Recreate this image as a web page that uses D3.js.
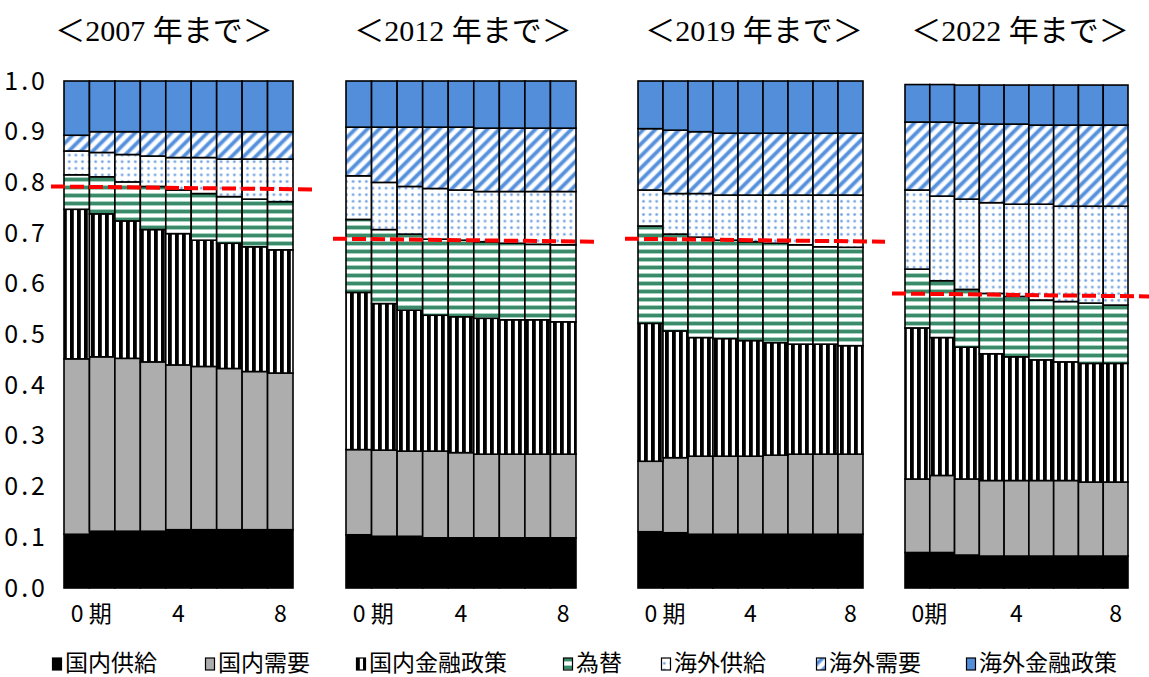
<!DOCTYPE html>
<html>
<head>
<meta charset="utf-8">
<title>要因分解（期間別）</title>
<script src="https://d3js.org/d3.v7.min.js"></script>
<style>
  body { margin: 0; background: #fff; }
  svg text { font-family: "Noto Sans CJK JP", "Noto Sans", sans-serif; fill: #000; }
</style>
</head>
<body>
<svg width="1149" height="677"></svg>
<script>

// ---- data ----
const periods = [0, 1, 2, 3, 4, 5, 6, 7, 8];
const factors = ['国内供給', '国内需要', '国内金融政策', '為替', '海外供給', '海外需要', '海外金融政策'];
const panelTitles = ['＜2007 年まで＞', '＜2012 年まで＞', '＜2019 年まで＞', '＜2022 年まで＞'];
const yTicks = [0, 0.1, 0.2, 0.3, 0.4, 0.5, 0.6, 0.7, 0.8, 0.9, 1.0];
const firstTickLabels = ['0 期', '0 期', '0 期', '0期'];

// shares per factor (rows in the order of `factors`), one value per period
const share2007 = [
  [.106, .112, .112, .112, .115, .115, .115, .115, .115],
  [.346, .344, .341, .334, .325, .322, .318, .312, .309],
  [.295, .282, .271, .261, .259, .249, .247, .246, .243],
  [.068, .073, .077, .085, .086, .092, .092, .094, .095],
  [.047, .048, .054, .060, .064, .071, .074, .079, .084],
  [.031, .041, .045, .048, .051, .051, .054, .054, .054],
  [.107, .100, .100, .100, .100, .100, .100, .100, .100]
];
const share2012 = [
  [.105, .102, .102, .099, .099, .099, .099, .099, .099],
  [.168, .170, .168, .171, .168, .165, .165, .165, .165],
  [.310, .289, .278, .268, .268, .268, .265, .265, .261],
  [.144, .146, .150, .150, .151, .151, .151, .149, .152],
  [.086, .093, .094, .100, .099, .099, .102, .104, .105],
  [.096, .109, .117, .121, .124, .125, .125, .125, .125],
  [.091, .091, .091, .091, .091, .093, .093, .093, .093]
];
const share2019 = [
  [.111, .109, .106, .106, .106, .106, .106, .106, .106],
  [.139, .148, .154, .154, .154, .156, .158, .158, .158],
  [.272, .250, .234, .232, .228, .222, .217, .217, .214],
  [.192, .191, .198, .194, .195, .196, .196, .192, .194],
  [.071, .080, .086, .089, .092, .095, .098, .102, .103],
  [.121, .125, .122, .122, .122, .122, .122, .122, .122],
  [.094, .097, .100, .103, .103, .103, .103, .103, .103]
];
const share2022 = [
  [.070, .070, .065, .063, .063, .063, .063, .063, .063],
  [.145, .152, .150, .149, .149, .149, .149, .146, .146],
  [.298, .272, .260, .250, .244, .238, .234, .234, .234],
  [.116, .112, .114, .119, .119, .118, .119, .119, .115],
  [.156, .167, .178, .179, .182, .189, .188, .191, .195],
  [.134, .146, .150, .155, .158, .156, .160, .160, .160],
  [.074, .074, .075, .077, .077, .079, .079, .079, .079]
];
// red dashed reference line: value at left end, value at right end
const line2007 = [0.792, 0.786];
const line2012 = [0.689, 0.683];
const line2019 = [0.689, 0.683];
const line2022 = [0.581, 0.575];

const shares = [share2007, share2012, share2019, share2022];
const refLines = [line2007, line2012, line2019, line2022];

// ---- layout ----
const svg = d3.select('svg');
const panelRanges = [[64, 293], [346, 576], [638, 863], [905, 1128]];
const titleX = [164, 463, 754, 1020];

const y = d3.scaleLinear().domain([0, 1]).range([588, 81]);

// patterns
const defs = svg.append('defs');

const vstripe = defs.append('pattern').attr('id', 'p-vstripe')
  .attr('patternUnits', 'userSpaceOnUse').attr('width', 7).attr('height', 7);
vstripe.append('rect').attr('width', 7).attr('height', 7).attr('fill', '#fff');
vstripe.append('rect').attr('width', 3.8).attr('height', 7).attr('fill', '#000');

const hstripe = defs.append('pattern').attr('id', 'p-hstripe')
  .attr('patternUnits', 'userSpaceOnUse').attr('width', 8).attr('height', 8);
hstripe.append('rect').attr('width', 8).attr('height', 8).attr('fill', '#fff');
hstripe.append('rect').attr('y', 1).attr('width', 8).attr('height', 1).attr('fill', '#a8d2c0');
hstripe.append('rect').attr('y', 2).attr('width', 8).attr('height', 3).attr('fill', '#3b8b6b');
hstripe.append('rect').attr('y', 5).attr('width', 8).attr('height', 1).attr('fill', '#a8d2c0');

const dots = defs.append('pattern').attr('id', 'p-dots')
  .attr('patternUnits', 'userSpaceOnUse').attr('width', 6.6).attr('height', 6.6);
dots.append('rect').attr('width', 6.6).attr('height', 6.6).attr('fill', '#fff');
dots.append('circle').attr('cx', 3.3).attr('cy', 3.3).attr('r', 1.7).attr('fill', '#bcd3f2');
dots.append('circle').attr('cx', 3.3).attr('cy', 3.3).attr('r', 1.0).attr('fill', '#6097de');

const diag = defs.append('pattern').attr('id', 'p-diag')
  .attr('patternUnits', 'userSpaceOnUse').attr('width', 8.5).attr('height', 8.5)
  .attr('patternTransform', 'rotate(45)');
diag.append('rect').attr('width', 8.5).attr('height', 8.5).attr('fill', '#fff');
diag.append('rect').attr('x', 0).attr('width', 5).attr('height', 8.5).attr('fill', '#b9d2f1');
diag.append('rect').attr('x', 1).attr('width', 3).attr('height', 8.5).attr('fill', '#5590dc');

const fills = {
  '国内供給': '#000',
  '国内需要': '#adadad',
  '国内金融政策': 'url(#p-vstripe)',
  '為替': 'url(#p-hstripe)',
  '海外供給': 'url(#p-dots)',
  '海外需要': 'url(#p-diag)',
  '海外金融政策': '#528ed9'
};

// y axis
const yAxisG = svg.append('g')
  .attr('transform', 'translate(48,0)')
  .call(d3.axisLeft(y).tickValues(yTicks).tickSize(0).tickPadding(0).tickFormat(d3.format('.1f')));
yAxisG.select('.domain').remove();
yAxisG.selectAll('text')
  .style('font-size', '25px')
  .style('letter-spacing', '3px')
  .style('font-family', '"Noto Sans CJK JP", sans-serif');

// panels
shares.forEach((share, pi) => {
  const rows = periods.map((p, i) => {
    const r = { period: p };
    factors.forEach((f, k) => { r[f] = share[k][i]; });
    return r;
  });
  const series = d3.stack().keys(factors)(rows);

  const x = d3.scaleBand().domain(periods).range(panelRanges[pi]).padding(0);
  const g = svg.append('g').attr('class', 'panel');

  g.selectAll('g.series')
    .data(series)
    .join('g')
      .attr('class', 'series')
      .attr('fill', d => fills[d.key])
    .selectAll('rect')
    .data(d => d)
    .join('rect')
      .attr('x', d => x(d.data.period))
      .attr('y', d => y(d[1]))
      .attr('width', x.bandwidth())
      .attr('height', d => y(d[0]) - y(d[1]))
      .attr('stroke', '#000')
      .attr('stroke-width', 1.6);

  // red dashed line
  const [x0, x1] = x.range();
  const lineVals = refLines[pi];
  g.append('path')
    .datum([[x0 - 13, lineVals[0]], [x1 + 22, lineVals[1]]])
    .attr('d', d3.line().x(d => d[0]).y(d => y(d[1])))
    .attr('fill', 'none')
    .attr('stroke', '#ff0000')
    .attr('stroke-width', 4)
    .attr('stroke-dasharray', '14 5');

  // x tick labels
  const tickY = 622;
  g.append('text')
    .attr('x', x(0) + x.bandwidth() / 2 - 6)
    .attr('y', tickY)
    .style('font-size', '23px')
    .text(firstTickLabels[pi]);
  [4, 8].forEach(p => {
    g.append('text')
      .attr('x', x(p) + x.bandwidth() / 2)
      .attr('y', tickY)
      .attr('text-anchor', 'middle')
      .style('font-size', '23px')
      .text(p);
  });

  // title
  svg.append('text')
    .attr('x', titleX[pi])
    .attr('y', 41)
    .attr('text-anchor', 'middle')
    .style('font-family', '"Liberation Serif", "Noto Sans CJK JP", serif')
    .style('font-size', '30px')
    .text(panelTitles[pi]);
});

// legend
const legendX = [52, 205, 356, 563, 661, 816, 966];
const legend = svg.append('g').attr('class', 'legend');
factors.forEach((f, i) => {
  const lg = legend.append('g').attr('transform', `translate(${legendX[i]},0)`);
  lg.append('rect')
    .attr('x', 0.5).attr('y', 658)
    .attr('width', 9).attr('height', 12)
    .attr('fill', fills[f])
    .attr('stroke', '#000')
    .attr('stroke-width', 1.2);
  lg.append('text')
    .attr('x', 13)
    .attr('y', 671)
    .style('font-size', '23px')
    .text(f);
});

</script>
</body>
</html>
